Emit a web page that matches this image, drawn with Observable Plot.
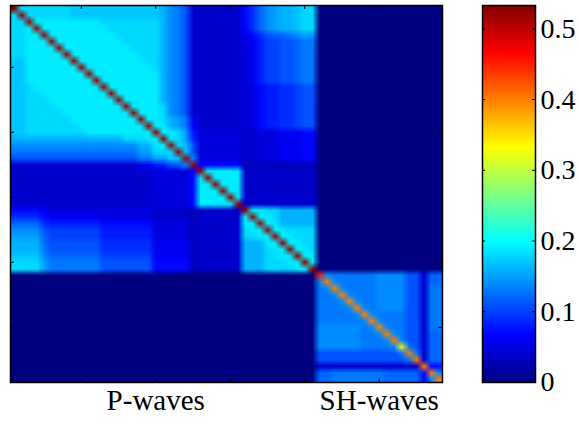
<!DOCTYPE html>
<html>
<head>
<meta charset="utf-8">
<script src="https://cdn.jsdelivr.net/npm/d3@7"></script>
<script src="https://cdn.jsdelivr.net/npm/@observablehq/plot@0.6"></script>
<style>
  html, body { margin: 0; padding: 0; background: #fff; }
  #figure { position: relative; width: 579px; height: 429px; }
  #figure svg { position: absolute; top: 0; }
  #figure svg text {
    font-family: "Liberation Serif", "DejaVu Serif", serif !important;
    fill: #000;
  }
</style>
</head>
<body>
<div id="figure"></div>
<script>
// Model-parameter covariance: P-wave indices 1–41, SH-wave indices 42–58
const n = 58;

const xTickValues = [10, 20, 30, 40, 50];
const xTickLabels = ["", "P-waves", "", "", "SH-waves"];
const yTickValues = [10, 20, 30, 40, 50];

const colorbarTicks = [0, 0.1, 0.2, 0.3, 0.4, 0.5];
const colorbarLabels = ["0", "0.1", "0.2", "0.3", "0.4", "0.5"];
const colorMax = 0.533;

// jet colormap anchor points
const jetPositions = [0, 0.125, 0.375, 0.625, 0.875, 1];
const jetColors = ["#000080", "#0000ff", "#00ffff", "#ffff00", "#ff0000", "#800000"];

// variances along the diagonal
const diagonal = [
  0.53, 0.52, 0.52, 0.52, 0.52, 0.52, 0.52, 0.52, 0.52, 0.52,
  0.52, 0.52, 0.52, 0.52, 0.52, 0.52, 0.52, 0.52, 0.52, 0.52,
  0.52, 0.52, 0.52, 0.52, 0.52, 0.52, 0.52, 0.52, 0.52, 0.52,
  0.52, 0.52, 0.52, 0.52, 0.52, 0.52, 0.52, 0.52, 0.52, 0.52,
  0.52, 0.45, 0.40, 0.40, 0.40, 0.40, 0.40, 0.40, 0.40, 0.40,
  0.40, 0.40, 0.34, 0.40, 0.40, 0.40, 0.40, 0.40
];

// covariances below the diagonal, in hundredths: "code*count" runs,
// code is one character of levelCodes (0 → 0.00, a → 0.10, k → 0.20)
const levelCodes = "0123456789abcdefghijkl";
const lowerRows = [
  "",
  "i",
  "i*2",
  "i*2 j",
  "i*2 j*2",
  "i*2 j*3",
  "i*2 j*4",
  "i*2 j*5",
  "h*2 j*6",
  "h*2 j*7",
  "h*2 j*8",
  "h*2 j*9",
  "h*2 i j*9",
  "h*2 i*2 j*9",
  "h*2 i*3 j*9",
  "h*2 i*4 j*9",
  "h*2 i*5 j*9",
  "h*2 i*6 j*9",
  "h*2 i*7 j*9",
  "h*2 i*8 j*9",
  "g*15 i*3 j*2",
  "e*17 g*2 j*2",
  "d*17 f*2 i*3",
  "b*17 d*2 f*2 h*2",
  "4*17 6*2 8*2 b*2 e",
  "4*19 5*5 7",
  "4*19 5*5 7 j",
  "4*19 5*5 7 j*2",
  "4*19 5*5 7 j*3",
  "4*19 5*5 7 j*4",
  "4*19 5*5 7 j*5",
  "7*4 6 5*14 4*5 3 4*6",
  "9*4 7 6*7 5*7 4*5 3 4*6 j",
  "c*4 9 8*7 7*7 5*5 3 4*6 j*2",
  "e*4 b a*7 8*7 5*5 3 4*6 i j*2",
  "f*4 c a*7 8*7 5*5 3 4*6 i*2 j*2",
  "g*4 c b*7 9*7 6*5 3 4*6 g*3 j*2",
  "g*4 d b*7 9*7 6*5 3 4*6 g*3 i j*2",
  "h*4 e c*7 a*7 6*5 3 4*6 g*3 i*2 j*2",
  "i*4 f d*7 b*7 7*5 3 4*6 g*3 i*3 j*2",
  "i*4 f d*7 b*7 7*5 3 4*6 g*3 i*4 j*2",
  "0*41",
  "0*41 e",
  "0*41 d e",
  "0*41 d*2 e",
  "0*41 d*3 e",
  "0*41 d*4 e",
  "0*41 d*5 e",
  "0*41 d*6 e",
  "0*41 e*6 d e",
  "0*41 e*6 d*2 e",
  "0*41 e*6 d*3 e",
  "0*41 e*6 d*4 e",
  "0*41 b*11 d",
  "0*41 b*12 d",
  "0*41 4*14",
  "0*41 c*2 d*7 c*5 7",
  "0*41 c*2 d*7 c*5 7 e"
];

function decodeRow(text) {
  const out = [];
  for (const token of text.split(" ").filter(Boolean)) {
    const [code, count] = token.split("*");
    const value = levelCodes.indexOf(code) / 100;
    for (let k = 0; k < (count ? +count : 1); ++k) out.push(value);
  }
  return out;
}

// symmetric matrix, flattened row by row
const matrix = Array.from({length: n}, () => new Array(n).fill(0));
lowerRows.forEach((text, i) => {
  decodeRow(text).forEach((v, j) => { matrix[i][j] = v; matrix[j][i] = v; });
  matrix[i][i] = diagonal[i];
});
const cells = matrix.flat();

const color = {
  type: "linear",
  domain: jetPositions.map((t) => t * colorMax),
  range: jetColors,
  interpolate: "rgb",
  clamp: true
};

const serif = '"Liberation Serif", "DejaVu Serif", serif';
const svgStyle = {color: "black", background: "transparent", overflow: "visible", fontFamily: serif};

// main image
const frameW = 432, frameH = 377, tickLen = 4;
const xLabelByTick = new Map(xTickValues.map((v, i) => [v, xTickLabels[i]]));
const main = Plot.plot({
  width: 460,
  height: 429,
  marginTop: 5,
  marginLeft: 10,
  marginRight: 18,
  marginBottom: 47,
  style: svgStyle,
  x: {domain: [0.5, n + 0.5]},
  y: {domain: [0.5, n + 0.5], reverse: true, axis: null},
  color,
  marks: [
    Plot.raster(cells, {width: n, height: n, x1: 0.5, x2: n + 0.5, y1: 0.5, y2: n + 0.5, fill: (d) => d}),
    Plot.tickX(xTickValues, {x: (d) => d, insetTop: frameH - tickLen, stroke: "black"}),
    Plot.tickX(xTickValues, {x: (d) => d, insetBottom: frameH - tickLen, stroke: "black"}),
    Plot.tickY(yTickValues, {y: (d) => d, insetRight: frameW - tickLen, stroke: "black"}),
    Plot.tickY(yTickValues, {y: (d) => d, insetLeft: frameW - tickLen, stroke: "black"}),
    Plot.frame({stroke: "black", strokeWidth: 1.5}),
    Plot.axisX(xTickValues, {anchor: "bottom", tickSize: 0, tickPadding: 7, fontFamily: serif, fontSize: 29, tickFormat: (d) => xLabelByTick.get(d)})
  ]
});

// colorbar
const barW = 53, barTick = 3;
const barLabelByTick = new Map(colorbarTicks.map((v, i) => [v, colorbarLabels[i]]));
const bar = Plot.plot({
  width: 109,
  height: 429,
  marginTop: 5,
  marginLeft: 12,
  marginRight: 44,
  marginBottom: 47,
  style: svgStyle,
  x: {domain: [0, 1], axis: null},
  y: {domain: [0, colorMax]},
  color,
  marks: [
    Plot.raster({x1: 0, x2: 1, y1: 0, y2: colorMax, fill: (x, y) => y, pixelSize: 1}),
    Plot.tickY(colorbarTicks, {y: (d) => d, insetRight: barW - barTick, stroke: "black"}),
    Plot.tickY(colorbarTicks, {y: (d) => d, insetLeft: barW - barTick, stroke: "black"}),
    Plot.frame({stroke: "black", strokeWidth: 1.5}),
    Plot.axisY(colorbarTicks, {anchor: "right", tickSize: 0, tickPadding: 5, fontFamily: serif, fontSize: 28, tickFormat: (d) => barLabelByTick.get(d)})
  ]
});

const figure = document.getElementById("figure");
main.style.left = "0px";
bar.style.left = "470px";
figure.append(main, bar);
</script>
</body>
</html>
